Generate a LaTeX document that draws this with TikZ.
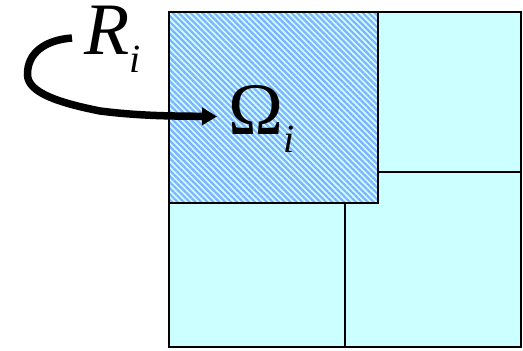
\documentclass[tikz,border=0pt]{standalone}
\usepackage{fontspec}
\setmainfont{Liberation Serif}
\usetikzlibrary{positioning,arrows.meta,patterns.meta}
\definecolor{cellcyan}{RGB}{204,255,255}
\definecolor{hatchblue}{RGB}{128,176,255}
\tikzstyle{cell}=[rectangle, draw=black, line width=1.6pt, fill=cellcyan, inner sep=0pt, anchor=south west]
\tikzstyle{subdomain}=[rectangle, draw=black, line width=1.6pt, inner sep=0pt, anchor=south west,
        preaction={fill=cellcyan}, pattern={Lines[angle=-45,distance=4.2pt,line width=2.2pt]}, pattern color=hatchblue]
\tikzstyle{symb}=[inner sep=0pt, anchor=base west, font=\fontsize{74}{74}\selectfont]
\tikzstyle{myarrow}=[-{Triangle[length=15pt,width=17pt]}, line width=7.5pt]
\newcommand{\lowidx}[1]{\raisebox{-18pt}{\fontsize{40}{40}\selectfont\itshape #1}}

\begin{document}
\begin{tikzpicture}[x=1pt,y=1pt]
	\useasboundingbox (0,0) rectangle (523,351);

	\node (NE) [cell, minimum width=143pt, minimum height=160pt] at (377,178) {};
	\node (SE) [cell, minimum width=176pt, minimum height=175pt] at (344,3) {};
	\node (SW) [cell, minimum width=176pt, minimum height=144pt] at (168,3) {};
	\node (Sub) [subdomain, minimum width=209pt, minimum height=191pt] at (168,147) {};

	\node (R) [symb] at (84,296) {\itshape R\lowidx{i}};
	\node (Om) [symb] at (228,216) {Ω\lowidx{i}};

	\coordinate (RTail) at (72,313);

\draw[myarrow] (RTail) .. controls (45,311) and (27,298) .. (27.5,276)
        .. controls (28,258) and (60,248) .. (100,240)
        .. controls (140,235) and (170,235) .. ([xshift=-11pt,yshift=3pt]Om.west);

\end{tikzpicture}
\end{document}
